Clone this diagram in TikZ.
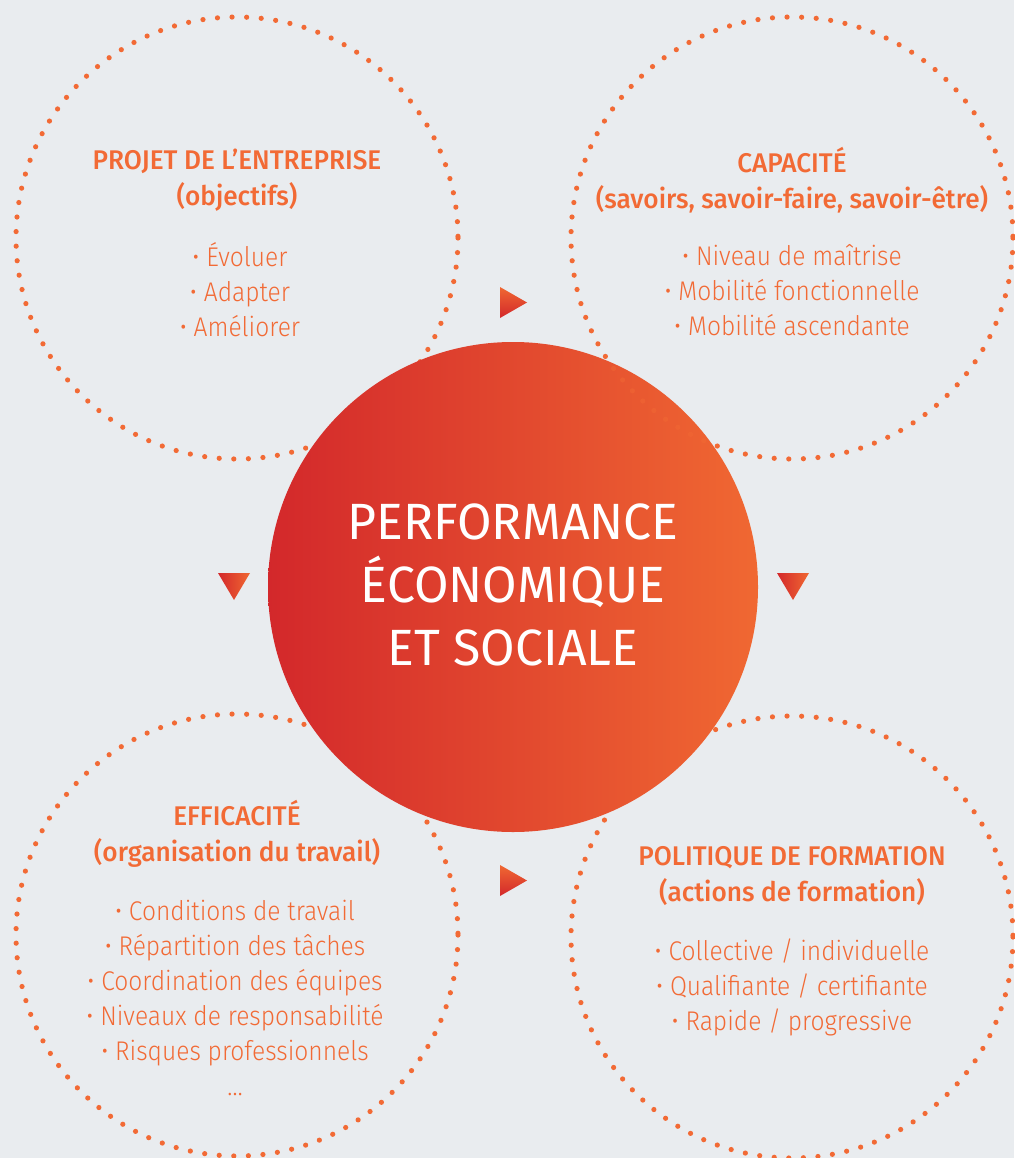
\documentclass[tikz,border=0pt]{standalone}
\usepackage{fontspec}
\setmainfont{Fira Sans}[UprightFont={* Light}]
\newfontfamily\headfont{Fira Sans}[UprightFont={* Medium}, FakeStretch=0.97]
\newfontfamily\itemfont{Fira Sans}[UprightFont={* Light}, FakeStretch=0.91]
\newfontfamily\corefont{Fira Sans}[FakeStretch=0.98]
\usetikzlibrary{calc}
\definecolor{bg}{HTML}{E9ECEF}
\definecolor{accent}{HTML}{F26A35}
\definecolor{deepred}{HTML}{D3282B}
\definecolor{warmorange}{HTML}{F06832}
\tikzset{
  ring/.style={draw=accent, line width=5.2pt, line cap=round, dash pattern=on 0pt off 14.6pt},
  heading/.style={text=accent, font=\headfont\fontsize{27}{36}\selectfont, align=center, inner sep=0pt},
  items/.style={text=accent, font=\itemfont\fontsize{27}{35}\selectfont, align=center, inner sep=0pt},
  core/.style={text=white, font=\corefont\fontsize{51}{63}\selectfont, align=center, inner sep=0pt},
  marker/.style={bottom color=deepred, top color=warmorange},
  dropmarker/.style={left color=deepred, right color=warmorange},
}
\begin{document}
\begin{tikzpicture}[x=1pt, y=-1pt]
  % canvas
  \fill[bg] (0,0) rectangle (1014,1158);
  \useasboundingbox (0,0) rectangle (1014,1158);

  % centres of the four themes and of the core
  \coordinate (tl) at (237,238);
  \coordinate (tr) at (792,238);
  \coordinate (bl) at (237,935);
  \coordinate (br) at (792,937);
  \coordinate (mid) at (513,587);

  % dotted rings
  \draw[ring] (tl) circle (221);
  \draw[ring] (bl) circle (221);
  \draw[ring] (br) circle (221);
  \draw[ring] (tr) circle (221);

  % core disc with its horizontal gradient
  \shade[left color=deepred, right color=warmorange] (mid) circle (245);

  % the upper right ring shows faintly through the core
  \begin{scope}
    \clip (mid) circle (245);
    \draw[ring, draw opacity=0.45] (tr) circle (221);
  \end{scope}

  % flow markers
  \shade[marker] (500,287) -- (527,302.5) -- (500,318) -- cycle;
  \shade[marker] (500,865) -- (527,880.5) -- (500,896) -- cycle;
  \shade[dropmarker] (218,573) -- (250,573) -- (234,600) -- cycle;
  \shade[dropmarker] (777,573) -- (809,573) -- (793,600) -- cycle;

  % core text
  \node[core] (coretext) at (513,585) {PERFORMANCE\\ÉCONOMIQUE\\ET SOCIALE};

  % theme: project
  \node[heading] (tlh) at (237,180) {PROJET DE L’ENTREPRISE\\(objectifs)};
  \node[items] (tli) at (240,290) {• Évoluer\\• Adapter\\• Améliorer};

  % theme: capacity
  \node[heading] (trh) at (792,180) {CAPACITÉ\\(savoirs, savoir-faire, savoir-être)};
  \node[items] (tri) at (792,290) {• Niveau de maîtrise\\• Mobilité fonctionnelle\\• Mobilité ascendante};

  % theme: efficiency
  \node[heading] (blh) at (237,834) {EFFICACITÉ\\(organisation du travail)};
  \node[items] (bli) at (235,998) {• Conditions de travail\\• Répartition des tâches\\• Coordination des équipes\\• Niveaux de responsabilité\\• Risques professionnels\\…};

  % theme: training
  \node[heading] (brh) at (792,876) {POLITIQUE DE FORMATION\\(actions de formation)};
  \node[items] (bri) at (792,987) {• Collective / individuelle\\• Qualifiante / certifiante\\• Rapide / progressive};
\end{tikzpicture}
\end{document}
